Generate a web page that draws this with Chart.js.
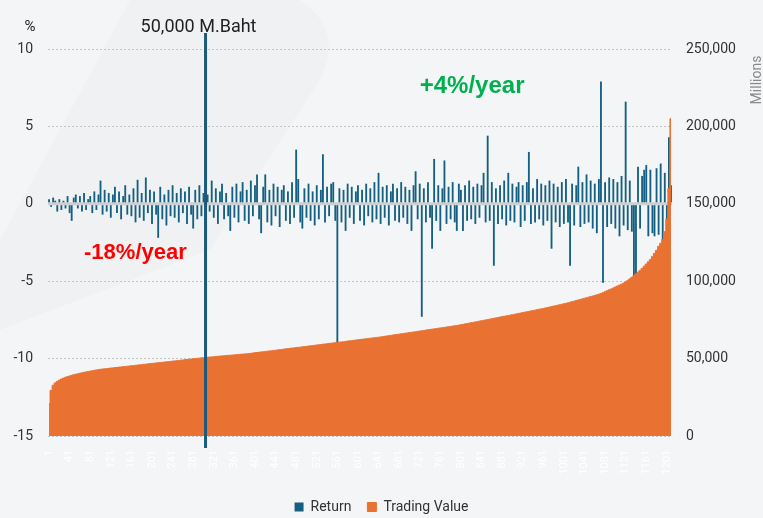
<!DOCTYPE html>
<html>
<head>
<meta charset="utf-8">
<script src="https://cdn.jsdelivr.net/npm/chart.js@4"></script>
<style>
  html, body { margin: 0; padding: 0; background: #f4f5f6; }
  #wrap { width: 763px; height: 518px; position: relative; }
</style>
</head>
<body>
<div id="wrap"><canvas id="chart"></canvas></div>
<script>
// daily return (%) per stock, ranked by trading value
const returnPct = [
  0.3, -0.2, 0.4, 0.2, -0.5, 0.3, -0.4, 0.2, -0.3, 0.5,
  -0.6, -1.1, 0.4, 0.6, -0.3, 0.5, -0.5, 0.7, -0.4, 0.3,
  0.5, -0.6, 0.8, -0.4, 0.6, 1.5, -0.7, 0.9, -0.5, 0.7,
  -0.9, 0.6, 1.1, -0.6, 0.8, -1.0, 0.5, 1.2, -0.7, 0.6,
  -0.8, 1.0, -1.2, 1.55, -0.9, 0.7, -1.1, 1.7, -0.6, 0.9,
  -1.3, 0.8, -0.7, -2.2, 1.1, -1.0, 0.6, -1.4, 0.9, -0.8,
  1.2, -0.9, 0.7, -1.2, 1.0, -0.6, 0.8, -1.3, 1.1, -0.7,
  -1.6, 0.9, -1.0, 1.2, -0.8, 0.7, -1.1, 0.6, -0.5, 1.5,
  -0.9, 1.0, -1.3, 0.8, 1.3, -1.0, 0.7, -0.8, -1.75, 1.1,
  -0.9, 1.3, -1.2, 0.8, 1.4, -1.1, 0.9, -1.3, 1.5, -0.8,
  1.2, 1.9, -1.0, -1.9, 1.1, 1.9, -1.2, 0.9, -1.4, 1.3,
  -0.8, 1.1, -1.5, 0.9, 1.2, -1.1, 0.8, -1.3, 1.4, -0.9,
  3.5, 1.6, -1.2, -1.6, 1.0, -0.9, 1.3, -1.1, 0.8, -1.4,
  1.2, -1.0, 0.9, 3.2, -1.2, 1.1, -0.8, 1.3, 1.4, -1.1,
  -9.0, 1.0, -1.2, 0.9, -1.75, 1.3, -0.9, 1.1, -1.3, 0.8,
  1.2, -1.1, 0.9, -1.4, 1.3, -0.8, 1.0, -1.2, 1.4, -1.0,
  2.0, -1.3, 1.1, -0.9, 1.2, -1.4, 0.8, 1.3, -1.1, 1.0,
  -1.2, 1.4, -0.9, 1.1, -1.3, 0.9, -1.75, 1.2, 2.1, -1.0,
  1.3, -7.3, 1.0, -1.2, 1.4, -0.9, -2.9, 2.9, -1.1, 1.2,
  -1.75, 1.0, 2.8, -1.3, 1.1, -1.0, 1.4, -1.2, -1.75, 1.3,
  0.9, -1.75, 1.2, -1.1, 1.5, -1.0, 1.1, -1.3, 1.3, -0.9,
  1.2, 2.0, -1.2, 4.4, -1.1, 1.4, -4.0, 1.0, -1.3, 1.2,
  -1.0, 1.5, -1.4, 2.0, -1.1, 1.3, -1.2, 1.1, 1.4, -1.5,
  1.2, -1.1, 1.4, 3.35, -1.3, 1.0, -1.2, 1.6, -1.0, 1.3,
  -1.4, 1.2, -1.1, 1.5, -2.9, 1.3, -1.2, 1.1, -1.5, 1.4,
  -1.3, 1.6, -1.2, -4.0, 1.3, -1.4, 1.2, 2.4, -1.5, 1.4,
  -1.3, 1.9, -1.2, 1.5, -1.6, 1.3, -1.9, 1.6, 7.9, -5.1,
  1.4, -1.5, 1.7, -1.3, 1.6, -1.6, 1.4, -2.1, 1.8, -1.4,
  6.6, -1.7, 1.5, -1.8, -5.5, -5.0, 2.4, -1.6, 1.8, 2.2,
  2.5, -2.1, 2.2, -1.9, -2.1, 2.3, -2.0, 2.6, -2.4, 2.0,
  -2.3, 4.3, 1.2
];

// trading value, thousand million baht
const tradingValueK = [
  21.0, 29.5, 32.8, 34.3, 35.3, 36.1, 36.8, 37.4, 37.9, 38.4,
  38.8, 39.2, 39.6, 39.9, 40.2, 40.5, 40.8, 41.1, 41.4, 41.7,
  41.9, 42.2, 42.4, 42.7, 42.9, 43.1, 43.3, 43.4, 43.6, 43.7,
  43.9, 44.0, 44.2, 44.3, 44.5, 44.6, 44.8, 44.9, 45.1, 45.2,
  45.4, 45.5, 45.7, 45.8, 46.0, 46.1, 46.3, 46.4, 46.6, 46.7,
  46.9, 47.0, 47.2, 47.3, 47.5, 47.6, 47.8, 47.9, 48.1, 48.2,
  48.4, 48.5, 48.7, 48.8, 49.0, 49.1, 49.3, 49.4, 49.6, 49.7,
  49.9, 50.0, 50.2, 50.3, 50.5, 50.6, 50.8, 50.9, 51.0, 51.1,
  51.2, 51.4, 51.5, 51.6, 51.7, 51.8, 52.0, 52.1, 52.2, 52.3,
  52.4, 52.6, 52.7, 52.8, 52.9, 53.0, 53.1, 53.3, 53.4, 53.6,
  53.8, 53.9, 54.1, 54.3, 54.4, 54.6, 54.8, 54.9, 55.1, 55.3,
  55.4, 55.6, 55.8, 55.9, 56.1, 56.3, 56.4, 56.6, 56.8, 56.9,
  57.1, 57.3, 57.4, 57.6, 57.8, 57.9, 58.1, 58.3, 58.4, 58.6,
  58.8, 58.9, 59.1, 59.3, 59.4, 59.6, 59.8, 59.9, 60.1, 60.3,
  60.4, 60.6, 60.8, 60.9, 61.1, 61.3, 61.5, 61.6, 61.8, 62.0,
  62.1, 62.3, 62.5, 62.6, 62.8, 63.0, 63.2, 63.3, 63.5, 63.7,
  63.8, 64.0, 64.2, 64.4, 64.6, 64.8, 65.0, 65.2, 65.4, 65.6,
  65.8, 66.0, 66.2, 66.4, 66.6, 66.8, 67.0, 67.2, 67.4, 67.6,
  67.8, 68.0, 68.2, 68.4, 68.6, 68.8, 69.0, 69.2, 69.4, 69.6,
  69.8, 70.0, 70.2, 70.4, 70.6, 70.8, 71.0, 71.2, 71.4, 71.6,
  71.9, 72.1, 72.4, 72.6, 72.9, 73.2, 73.4, 73.7, 73.9, 74.2,
  74.5, 74.7, 75.0, 75.2, 75.5, 75.8, 76.0, 76.3, 76.5, 76.8,
  77.1, 77.3, 77.6, 77.8, 78.1, 78.4, 78.6, 78.9, 79.2, 79.4,
  79.7, 80.0, 80.2, 80.5, 80.8, 81.0, 81.3, 81.6, 81.9, 82.1,
  82.4, 82.7, 83.0, 83.3, 83.6, 83.9, 84.2, 84.5, 84.8, 85.1,
  85.4, 85.7, 86.0, 86.4, 86.8, 87.1, 87.5, 87.9, 88.2, 88.6,
  89.0, 89.3, 89.7, 90.1, 90.4, 90.8, 91.2, 91.6, 92.0, 92.6,
  93.2, 93.8, 94.4, 95.0, 95.6, 96.3, 96.9, 97.5, 98.1, 98.8,
  99.5, 100.5, 101.5, 102.5, 103.6, 104.7, 105.8, 107.0, 108.3, 109.7,
  111.1, 112.5, 114.0, 116.0, 118.0, 120.0, 122.5, 124.5, 127.0, 132.0,
  140.0, 160.0, 205.0
];

// rank numbers, each bar stands for 4 ranks (1, 5, 9, ...)
const rankLabels = returnPct.map((_, i) => String(1 + i * 4));

const markerIndex = 76;
const markerText = '50,000 M.Baht';
const notes = [
  { text: '+4%/year', idx: 180, value: 7.6, color: '#00b050', size: 24 },
  { text: '-18%/year', idx: 17, value: -3.2, color: '#ff0000', size: 22 }
];

const BLUE = '#156082';
const ORANGE = '#e97132';

Chart.defaults.font.family = "'Roboto', 'Open Sans', sans-serif";
Chart.defaults.color = '#333';

const background = {
  id: 'background',
  beforeDraw(chart) {
    const { ctx, width, height } = chart;
    ctx.save();
    ctx.fillStyle = '#f4f5f6';
    ctx.fillRect(0, 0, width, height);
    ctx.fillStyle = 'rgba(0,0,0,0.014)';
    ctx.beginPath();
    ctx.moveTo(0, 240);
    ctx.lineTo(130, 0);
    ctx.lineTo(300, 0);
    ctx.quadraticCurveTo(345, 30, 320, 80);
    ctx.lineTo(210, 250);
    ctx.lineTo(0, 330);
    ctx.closePath();
    ctx.fill();
    ctx.restore();
  }
};

// horizontal axis line at 0 %, drawn over the bars and under the area
const zeroLine = {
  id: 'zeroLine',
  afterDatasetDraw(chart, args) {
    if (args.index !== 0) return;
    const { ctx, chartArea, scales } = chart;
    const y = scales.y.getPixelForValue(0);
    ctx.save();
    ctx.strokeStyle = '#cdd0d3';
    ctx.lineWidth = 3;
    ctx.beginPath();
    ctx.moveTo(chartArea.left, y);
    ctx.lineTo(chartArea.right, y);
    ctx.stroke();
    ctx.restore();
  }
};

const overlay = {
  id: 'overlay',
  afterDraw(chart) {
    const { ctx, chartArea, scales } = chart;
    const x = scales.x.getPixelForValue(markerIndex);
    ctx.save();
    ctx.strokeStyle = '#1b5a7a';
    ctx.lineWidth = 3;
    ctx.beginPath();
    ctx.moveTo(x, chartArea.top - 16);
    ctx.lineTo(x, chartArea.bottom + 12);
    ctx.stroke();

    ctx.fillStyle = '#222';
    ctx.font = "18px 'Roboto', sans-serif";
    ctx.textAlign = 'center';
    ctx.textBaseline = 'alphabetic';
    ctx.fillText(markerText, x - 7, 32);

    ctx.font = "15px 'Roboto', sans-serif";
    ctx.fillText('%', 30, 31);

    notes.forEach(n => {
      ctx.fillStyle = n.color;
      ctx.font = `bold ${n.size}px 'Liberation Sans', Arial, sans-serif`;
      ctx.textAlign = 'left';
      ctx.textBaseline = 'middle';
      ctx.fillText(n.text, scales.x.getPixelForValue(n.idx), scales.y.getPixelForValue(n.value));
    });

    ctx.translate(757, 80);
    ctx.rotate(-Math.PI / 2);
    ctx.fillStyle = '#8a8a8a';
    ctx.font = "14px 'Roboto', sans-serif";
    ctx.textAlign = 'center';
    ctx.textBaseline = 'middle';
    ctx.fillText('Millions', 0, 0);
    ctx.restore();
  }
};

new Chart(document.getElementById('chart'), {
  data: {
    labels: rankLabels,
    datasets: [
      {
        type: 'bar',
        label: 'Return',
        data: returnPct,
        yAxisID: 'y',
        backgroundColor: BLUE,
        borderWidth: 0,
        barPercentage: 0.9,
        categoryPercentage: 1,
        order: 1
      },
      {
        type: 'line',
        label: 'Trading Value',
        data: tradingValueK.map(v => v * 1000),
        yAxisID: 'y1',
        backgroundColor: ORANGE,
        borderColor: ORANGE,
        borderWidth: 1,
        pointRadius: 0,
        stepped: 'middle',
        fill: 'origin',
        order: 0
      }
    ]
  },
  options: {
    responsive: true,
    maintainAspectRatio: false,
    animation: false,
    layout: { padding: { top: 49, left: 0, right: 0, bottom: 0 } },
    plugins: {
      tooltip: { enabled: false },
      legend: {
        position: 'bottom',
        maxHeight: 34,
        labels: {
          boxWidth: 9,
          boxHeight: 9,
          padding: 16,
          color: '#333',
          font: { size: 14 },
          sort: (a, b) => a.datasetIndex - b.datasetIndex
        }
      }
    },
    scales: {
      x: {
        grid: { display: false },
        border: { display: false },
        ticks: {
          color: '#ffffff',
          font: { size: 11 },
          autoSkip: false,
          maxRotation: 90,
          minRotation: 90,
          padding: 6,
          callback: (v, i) => (i % 10 === 0 ? rankLabels[i] : '')
        },
        afterFit: s => { s.height = 48; }
      },
      y: {
        position: 'left',
        min: -15,
        max: 10,
        grid: { color: '#c4c6c8', drawTicks: false },
        border: { display: false, dash: [2, 2] },
        ticks: { stepSize: 5, padding: 15, font: { size: 14 }, color: '#333' },
        afterFit: s => { s.width = 48; }
      },
      y1: {
        position: 'right',
        min: 0,
        max: 250000,
        grid: { drawOnChartArea: false, drawTicks: false },
        border: { display: false },
        ticks: {
          stepSize: 50000,
          padding: 14,
          font: { size: 14 },
          color: '#333',
          callback: v => v.toLocaleString('en-US')
        },
        afterFit: s => { s.width = 91; }
      }
    }
  },
  plugins: [background, zeroLine, overlay]
});
</script>
</body>
</html>
